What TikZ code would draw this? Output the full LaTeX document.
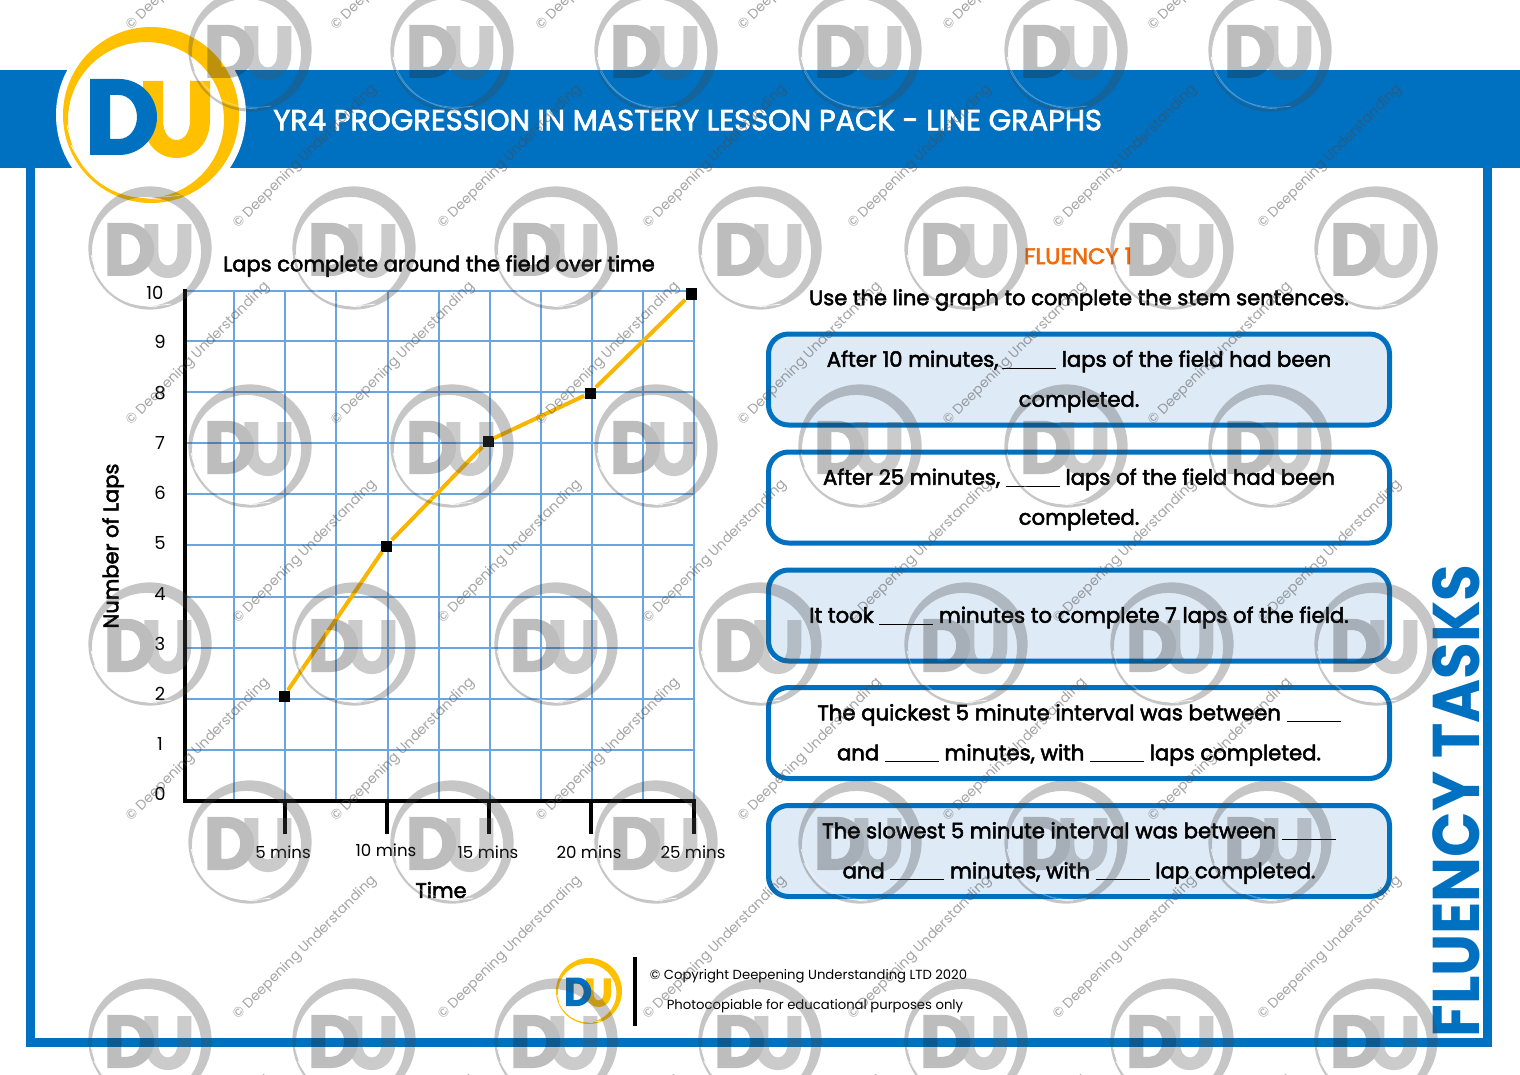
\documentclass[tikz,border=0pt]{standalone}
\usepackage{fontspec}
\setmainfont{Poppins}
\newfontfamily\stemfont{Poppins}[FakeBold=2.5]
\usetikzlibrary{positioning}
\definecolor{duBlue}{HTML}{0070C0}
\definecolor{duYellow}{HTML}{FFC000}
\definecolor{duGold}{HTML}{F9B600}
\definecolor{duPale}{HTML}{DEEAF6}
\definecolor{duOrange}{HTML}{F26A0A}
\definecolor{duGrid}{HTML}{6BA5E0}
\newcommand{\blankline}{\rule[-1pt]{27pt}{0.5pt}}
\tikzset{
  gridline/.style={duGrid, line width=0.55pt},
  axisline/.style={black, line width=2pt},
  tickline/.style={black, line width=1.8pt},
  stembox/.style={draw=duBlue, line width=2.5pt, rounded corners=10pt, minimum width=310.5pt, minimum height=45.5pt, inner sep=0pt, align=center, font=\fontsize{10.6}{20}\selectfont\stemfont, execute at begin node=\rule{0pt}{10pt}},
  twolines/.style={execute at begin node=\rule{0pt}{30pt}},
  datapt/.style={fill=black, minimum size=5.5pt, inner sep=0pt},
  graphline/.style={draw=duGold, line width=2pt},
  ticklabel/.style={font=\fontsize{8.3}{10}\selectfont},
  vallabel/.style={font=\fontsize{9}{10}\selectfont},
  boldlabel/.style={font=\fontsize{10.5}{12}\selectfont\stemfont},
  markname/.style={font=\fontsize{6.9}{9}\selectfont, text=gray!60!black, opacity=0.5, rotate=45},
  pics/dulogo/.style n args={3}{code={
    % ring with the thin brushed side
    \fill[#1, even odd rule] (0,0) circle[radius=88] (-5,5) circle[radius=78];
    \draw[white, line width=0.35pt] (-80,30) .. controls (-60,70) and (-20,88) .. (30,80);
    \draw[white, line width=0.35pt] (-84,10) .. controls (-76,50) and (-40,84) .. (10,84);
    % letters
    \fill[#3] (-8,-34) -- (12,-34) -- (12,5) .. controls (12,18) and (18,25) .. (25.5,25) .. controls (33,25) and (39,18) .. (39,5) -- (39,-34) -- (59,-34) -- (59,5) .. controls (59,28) and (44,43) .. (25.5,43) .. controls (7,43) and (-8,28) .. (-8,5) -- cycle;
    \fill[#2, even odd rule] (-61,-36) -- (-32,-36) .. controls (-11,-36) and (6,-19) .. (6,2) .. controls (6,23) and (-11,40) .. (-32,40) -- (-61,40) -- cycle
      (-41,-20) -- (-32,-20) .. controls (-22,-20) and (-14,-10) .. (-14,2) .. controls (-14,14) and (-22,24) .. (-32,24) -- (-41,24) -- cycle;
  }}
}
\begin{document}
\begin{tikzpicture}[x=0.5pt, y=-0.5pt]
  \clip (0,0) rectangle (1520,1075);
  \fill[white] (0,0) rectangle (1520,1075);

  % Frame and banner
  \fill[duBlue] (26,160) rectangle (35,1047);
  \fill[duBlue] (1483,160) rectangle (1492,1047);
  \fill[duBlue] (26,1038) rectangle (1492,1047);
  \fill[duBlue] (0,70) rectangle (1520,168);
  \fill[white] (151,115) circle[radius=95];
  \pic at (151,115) {dulogo={duYellow}{duBlue}{duYellow}};
  \node[anchor=west, inner sep=0pt, text=white, font=\fontsize{14.46}{16}\selectfont\stemfont] (title) at (273,120) {YR4 PROGRESSION IN MASTERY LESSON PACK - LINE GRAPHS};
  \node[rotate=90, xscale=0.905, transform shape, text=duBlue, font=\fontsize{33}{36}\selectfont\bfseries] (tasks) at (1456,801) {FLUENCY TASKS};

  % Grid of the graph
  \foreach \gx in {234,285,336,388,439,490,541,592,643,694}
    \draw[gridline] (\gx,291) -- (\gx,801);
  \foreach \gy in {291,341,392,443,494,545,597,648,699,750}
    \draw[gridline] (185,\gy) -- (694,\gy);

  % Axes
  \coordinate (ytop) at (185,291);
  \coordinate (origin) at (185,801);
  \coordinate (xend) at (694,801);
  \draw[axisline, line cap=rect] (ytop) -- (origin) -- (xend);
  \foreach \n/\tx/\lx/\ly/\txt in {a/285/283/852/5 mins, b/387/386/850/10 mins, c/489/488/852/15 mins, d/591/589/852/20 mins, e/694/693/852/25 mins} {
    \coordinate (tick\n) at (\tx,801);
    \coordinate (end\n) at (\tx,834);
    \draw[tickline] (tick\n) -- (end\n);
    \node[ticklabel] (lab\n) at (\lx,\ly) {\txt};
  }
  \foreach \v/\lx/\ly in {10/155/293,9/160/342,8/160/393,7/160/443,6/160/493,5/160/543,4/160/594,3/160/644,2/160/694,1/160/744,0/160/794}
    \node[vallabel] (val\v) at (\lx,\ly) {\v};

  % Graph labels
  \node[boldlabel] (gtitle) at (439,266) {Laps complete around the field over time};
  \node[boldlabel, rotate=90] (ylabel) at (113,546) {Number of Laps};
  \node[boldlabel] (xlabel) at (441,890) {Time};

  % Data points
  \node[datapt] (p1) at (284,696) {};
  \node[datapt] (p2) at (386,546) {};
  \node[datapt] (p3) at (488,441) {};
  \node[datapt] (p4) at (590,393) {};
  \node[datapt] (p5) at (691,294) {};
  \draw[graphline] (p1) -- (p2);
  \draw[graphline] (p2) -- (p3);
  \draw[graphline] (p3) -- (p4);
  \draw[graphline] (p4) -- (p5);

  % Right-hand task
  \node[text=duOrange, font=\fontsize{11.3}{12}\selectfont\stemfont] (fluency) at (1078,256) {FLUENCY 1};
  \node[boldlabel] (intro) at (1079,300) {Use the line graph to complete the stem sentences.};
  \node[stembox, twolines, fill=duPale] (box1) at (1079,379.5) {After 10 minutes,\,\blankline\ laps of the field had been\\completed.};
  \node[stembox, twolines] (box2) at (1079,497.5) {After 25 minutes, \blankline\ laps of the field had been\\completed.};
  \node[stembox, fill=duPale] (box3) at (1079,615.5) {It took \blankline\ minutes to complete 7 laps of the field.};
  \node[stembox, twolines] (box4) at (1079,733) {The quickest 5 minute interval was between \blankline\\and \blankline\ minutes, with \blankline\ laps completed.};
  \node[stembox, twolines, fill=duPale] (box5) at (1079,851) {The slowest 5 minute interval was between \blankline\\and \blankline\ minutes, with \blankline\ lap completed.};

  % Footer
  \pic[scale=0.375] at (589,991) {dulogo={duYellow}{duBlue}{duYellow}};
  \coordinate (ruletop) at (635,957);
  \coordinate (rulebot) at (635,1026);
  \draw[black, line width=1.8pt] (ruletop) -- (rulebot);
  \node[font=\fontsize{6.6}{9}\selectfont] (copy) at (808.5,976.5) {© Copyright Deepening Understanding LTD 2020};
  \node[font=\fontsize{6.6}{9}\selectfont] (photo) at (815,1006.5) {Photocopiable for educational purposes only};

  % Watermark on top of everything
  \foreach \wy in {50,446,842} {
    \foreach \wx in {250,452,656,860,1066,1270} {
      \begin{scope}[transparency group, opacity=0.3]
        \pic[scale=0.7] at (\wx,\wy) {dulogo={black!73}{black!85}{black!67}};
      \end{scope}
    }
  }
  \foreach \wy in {248,644,1040} {
    \foreach \wx in {150,354,556,760,966,1172,1376} {
      \begin{scope}[transparency group, opacity=0.3]
        \pic[scale=0.7] at (\wx,\wy) {dulogo={black!73}{black!85}{black!67}};
      \end{scope}
    }
  }
  \foreach \ty in {157,552,948} {
    \foreach \tx in {305,510,715,920,1125,1330}
      \node[markname] (mark\tx-\ty) at (\tx,\ty) {© Deepening Understanding};
  }
  \foreach \ty in {-41,354,750,1146} {
    \foreach \tx in {198,403,608,810,1015,1220}
      \node[markname] (mark\tx-\ty) at (\tx,\ty) {© Deepening Understanding};
  }
\end{tikzpicture}
\end{document}
